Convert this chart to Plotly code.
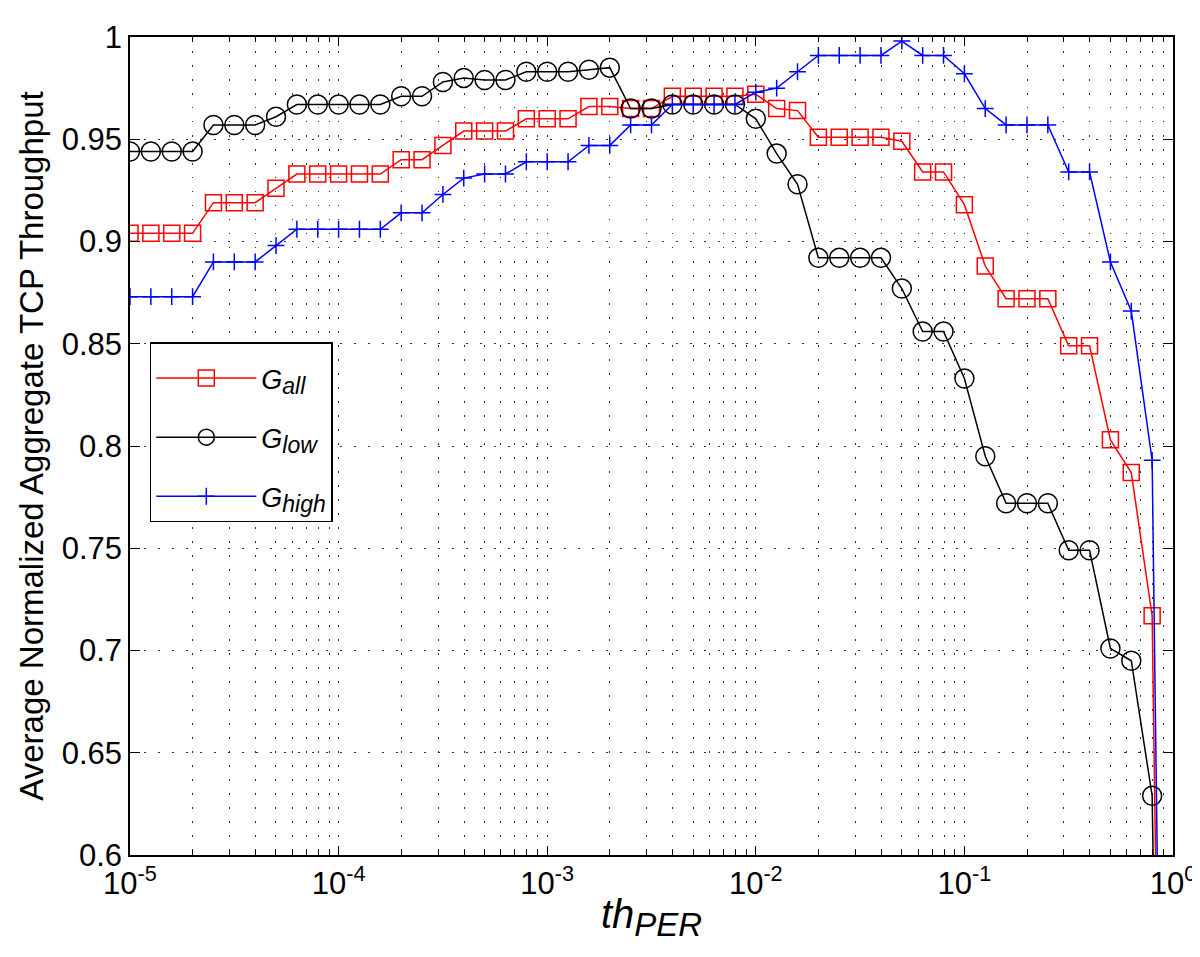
import numpy as np
import plotly.graph_objects as go

# x: threshold values, 10 points per decade from 1e-5 to 1
exponents = [-5 + k / 10 for k in range(51)]
th_per = [10 ** e for e in exponents]

g_all = [0.904, 0.904, 0.904, 0.904, 0.919, 0.919, 0.919, 0.926, 0.933, 0.933,
         0.933, 0.933, 0.933, 0.940, 0.940, 0.947, 0.954, 0.954, 0.954, 0.960,
         0.960, 0.960, 0.966, 0.966, 0.965, 0.965, 0.971, 0.971, 0.971, 0.971,
         0.972, 0.965, 0.964, 0.951, 0.951, 0.951, 0.951, 0.949, 0.934, 0.934,
         0.918, 0.888, 0.872, 0.872, 0.872, 0.849, 0.849, 0.803, 0.787, 0.717,
         0.0]

g_low = [0.944, 0.944, 0.944, 0.944, 0.957, 0.957, 0.957, 0.961, 0.967, 0.967,
         0.967, 0.967, 0.967, 0.971, 0.971, 0.978, 0.980, 0.979, 0.979, 0.983,
         0.983, 0.983, 0.984, 0.985, 0.965, 0.965, 0.967, 0.967, 0.967, 0.967,
         0.960, 0.943, 0.928, 0.892, 0.892, 0.892, 0.892, 0.877, 0.856, 0.856,
         0.833, 0.795, 0.772, 0.772, 0.772, 0.749, 0.749, 0.701, 0.695, 0.629,
         0.0]

g_high = [0.873, 0.873, 0.873, 0.873, 0.890, 0.890, 0.890, 0.898, 0.906, 0.906,
          0.906, 0.906, 0.906, 0.914, 0.914, 0.923, 0.931, 0.933, 0.933, 0.939,
          0.939, 0.939, 0.947, 0.947, 0.957, 0.957, 0.967, 0.967, 0.967, 0.967,
          0.973, 0.975, 0.983, 0.991, 0.991, 0.991, 0.991, 0.998, 0.991, 0.991,
          0.982, 0.965, 0.957, 0.957, 0.957, 0.934, 0.934, 0.890, 0.866, 0.793,
          0.0]

x_tickvals = [1e-5, 1e-4, 1e-3, 1e-2, 1e-1, 1]
x_ticktext = ["10<sup>-5</sup>", "10<sup>-4</sup>", "10<sup>-3</sup>",
              "10<sup>-2</sup>", "10<sup>-1</sup>", "10<sup>0</sup>"]
x_minor = [m * 10 ** d for d in range(-5, 0) for m in range(2, 10)]

y_tickvals = [0.6, 0.65, 0.7, 0.75, 0.8, 0.85, 0.9, 0.95, 1.0]
y_ticktext = ["0.6", "0.65", "0.7", "0.75", "0.8", "0.85", "0.9", "0.95", "1"]


def sub_label(main, sub, size):
    return (f"<i>{main}</i><sub><span style='font-size:{size}px'><i>{sub}</i></span></sub>")


series = [
    (sub_label("G", "all", 23), g_all, "#ff0000", "square-open", 16),
    (sub_label("G", "low", 23), g_low, "#000000", "circle-open", 19),
    (sub_label("G", "high", 23), g_high, "#0000ff", "cross-thin-open", 12),
]

fig = go.Figure()
for i, (name, vals, color, sym, size) in enumerate(series):
    fig.add_trace(go.Scatter(
        x=th_per, y=vals, mode="lines+markers", name=name,
        legendgroup=f"g{i}",
        line=dict(color=color, width=1.5),
        marker=dict(symbol=sym, size=size, color=color,
                    line=dict(color=color, width=1.5)),
        cliponaxis=True,
    ))

grid_kw = dict(gridcolor="rgba(0,0,0,0.8)", gridwidth=1.2, griddash="1.5px,12.5px")

fig.update_xaxes(
    type="log", range=[-5, 0],
    tickmode="array", tickvals=x_tickvals, ticktext=x_ticktext,
    ticks="inside", ticklen=9, tickwidth=1, tickcolor="black",
    showline=True, linecolor="black", linewidth=1.5, mirror="ticks",
    showgrid=True, **grid_kw,
    minor=dict(tickvals=x_minor, ticks="inside", ticklen=5, tickwidth=1,
               tickcolor="black", showgrid=True, **grid_kw),
    tickfont=dict(size=31), ticklabeloverflow="allow",
    title=dict(text=sub_label("th", "PER", 33), font=dict(size=40), standoff=0),
    zeroline=False,
)
fig.update_yaxes(
    range=[0.6, 1.0],
    tickmode="array", tickvals=y_tickvals, ticktext=y_ticktext,
    ticks="inside", ticklen=10, tickwidth=1, tickcolor="black",
    showline=True, linecolor="black", linewidth=1.5, mirror="ticks",
    showgrid=True, **grid_kw,
    tickfont=dict(size=31), ticklabeloverflow="allow",
    title=dict(text="Average Normalized Aggregate TCP Throughput", font=dict(size=33), standoff=8),
    zeroline=False,
)

fig.update_layout(
    width=1200, height=957,
    margin=dict(l=122, r=24, t=16, b=110),
    plot_bgcolor="white", paper_bgcolor="white",
    font=dict(family="Liberation Sans, Arial, Helvetica, sans-serif", color="black"),
    legend=dict(
        x=0.019, y=0.627, xanchor="left", yanchor="top",
        bgcolor="white", bordercolor="black", borderwidth=1.5,
        font=dict(size=27), itemwidth=100, tracegroupgap=21,
        traceorder="grouped",
        title=dict(text=" ", font=dict(size=8)),
    ),
    showlegend=True,
)

fig.write_html("out.html")
